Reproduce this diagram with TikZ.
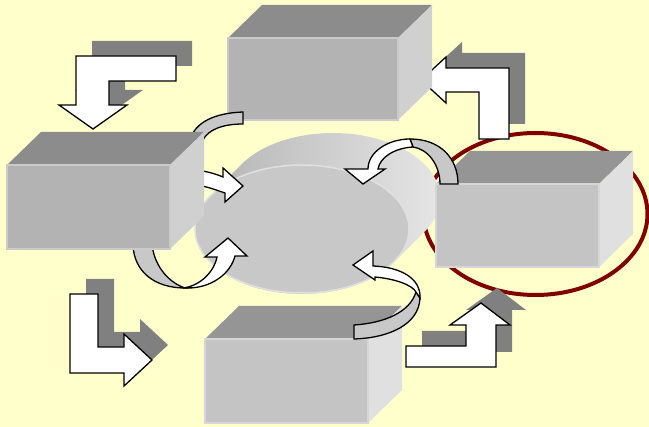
\documentclass[tikz,border=0pt]{standalone}
\definecolor{bgc}{HTML}{FFFFCC}
\definecolor{ringred}{HTML}{800000}
\definecolor{shadowgray}{HTML}{808080}
\definecolor{bandgray}{HTML}{C8C8C8}
\definecolor{darkfront}{HTML}{B3B3B3}
\definecolor{darktop}{HTML}{8C8C8C}
\definecolor{darkside}{HTML}{D0D0D0}
\definecolor{lightfront}{HTML}{C4C4C4}
\definecolor{lighttop}{HTML}{959595}
\definecolor{lightside}{HTML}{E0E0E0}
\definecolor{diskfront}{HTML}{C8C8C8}
\begin{document}
\begin{tikzpicture}[x=1pt,y=-1pt,
  shadowc/.style={fill=shadowgray},
  barrow/.style={fill=white,draw=black,line width=1.3pt,line join=miter},
  band/.style={fill=bandgray,draw=black,line width=1.3pt},
  whiteband/.style={fill=white,draw=black,line width=1.3pt},
  ring/.style={draw=ringred,line width=4pt}]
\newcommand{\mycube}[7]{%
  \fill[#6] (#1,#2) -- ++(34,-33) -- ++(#3,0) -- ++(-34,33) -- cycle;
  \fill[#7] (#1,#2) ++(#3,0) -- ++(34,-33) -- ++(0,#4) -- ++(-34,33) -- cycle;
  \filldraw[fill=#5,draw=#5!70!white,line width=1.2pt] (#1,#2) rectangle ++(#3,#4);}
\newcommand{\bentarrow}[1]{%
  \fill[shadowc,shift={(16,-15)}] #1;
  \draw[barrow] #1;}
\useasboundingbox (0,0) rectangle (649,427);
\fill[bgc] (0,0) rectangle (649,427);
% red ring
\draw[ring] (535.5,214) ellipse [x radius=112, y radius=81];
% disk
\shade[left color=black!30,middle color=black!40,right color=black!10]
  plot[domain=211.3:391.3,samples=60,variable=\t] ({333+107*cos(\t)},{198+65*sin(\t)})
  -- plot[domain=31.3:211.3,samples=60,variable=\t] ({302+107*cos(\t)},{229+65*sin(\t)}) -- cycle;
\filldraw[fill=diskfront,draw=black!12,line width=1.5pt] (302,229) ellipse [x radius=107, y radius=64];
% right and bottom boxes
\mycube{436}{184}{163}{83}{lightfront}{lighttop}{lightside}
\mycube{205}{339}{163}{84}{lightfront}{lighttop}{lightside}
% bent arrows with shadows
\bentarrow{(176,56) -- (176,81) -- (109,81) -- (109,105) -- (127,105) -- (93,129) -- (59,105) -- (76,105) -- (76,56) -- cycle}
\bentarrow{(70,294) -- (98,294) -- (98,347) -- (124,347) -- (124,334) -- (152,360) -- (124,386) -- (124,373) -- (70,373) -- cycle}
\bentarrow{(406,346) -- (466,346) -- (466,325) -- (450,325) -- (481,303) -- (510,325) -- (496,325) -- (496,367) -- (406,367) -- cycle}
\bentarrow{(509,68) -- (509,139) -- (479,139) -- (479,92) -- (446,92) -- (446,103) -- (421,80) -- (446,57) -- (446,68) -- cycle}
% top box
\mycube{228}{38}{170}{82}{darkfront}{darktop}{darkside}
% curved arrows
% upper left
\draw[band] (190,140) .. controls (195,122) and (215,113) .. (243,112) -- (243,124)
  .. controls (222,124) and (208,130) .. (203,140) -- cycle;
\draw[whiteband] (195,170) .. controls (206,171) and (216,174) .. (223,177) -- (223,168)
  -- (243,186) -- (225,202) -- (225,193) .. controls (216,190) and (206,186) .. (195,185) -- cycle;
% lower left
\draw[band] (133,245) .. controls (134,272) and (155,288) .. (185,288)
  .. controls (170,283) and (155,268) .. (152,245) -- cycle;
\draw[whiteband] (183,288) .. controls (200,286) and (214,272) .. (217,257) -- (205,257)
  -- (228,238) -- (247,256) -- (235,256) .. controls (230,275) and (210,288) .. (188,288) -- cycle;
% upper right
\draw[band] (458,184) .. controls (458,158) and (440,139) .. (410,139) -- (413,147)
  .. controls (428,149) and (440,165) .. (440,184) -- cycle;
\draw[whiteband] (410,139) .. controls (388,139) and (368,152) .. (368,169) -- (345,169)
  -- (363,184) -- (385,169) -- (378,169) .. controls (380,157) and (395,148) .. (413,147) -- cycle;
% lower right
\draw[band] (420,298) .. controls (419,325) and (388,338) .. (354,339) -- (354,325)
  .. controls (385,323) and (410,312) .. (416,292) -- cycle;
\draw[whiteband] (420,298) .. controls (421,278) and (400,267) .. (373,266) -- (373,251)
  -- (353,265) -- (375,280) -- (375,277) .. controls (396,279) and (412,285) .. (416,292) -- cycle;
% left box
\mycube{7}{165}{163}{84}{darkfront}{darktop}{darkside}
\end{tikzpicture}
\end{document}
